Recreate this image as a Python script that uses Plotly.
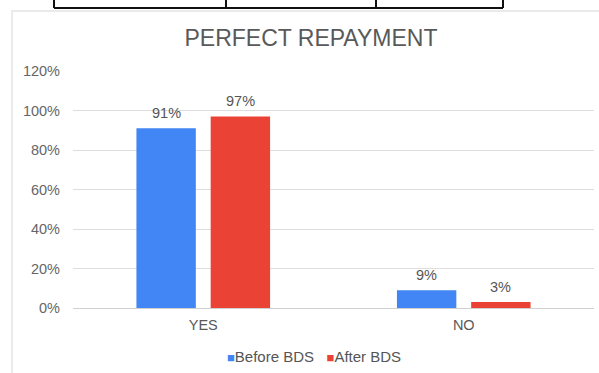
import plotly.graph_objects as go

categories = ["YES", "NO"]
before_bds = [0.91, 0.09]
after_bds = [0.97, 0.03]
series_names = ["Before BDS", "After BDS"]
series_colors = ["#4285F4", "#EA4335"]
tick_vals = [0, 0.2, 0.4, 0.6, 0.8, 1.0, 1.2]
tick_text = ["0%", "20%", "40%", "60%", "80%", "100%", "120%"]

W, H = 599, 373
L, R, T, B = 73, 5, 71, 65
PW, PH = W - L - R, H - T - B
BARGAP, GROUPGAP = 0.43, 0.2


def px(x):
    return (x - L) / PW


def py(y):
    return (H - B - y) / PH


FONT = "Arial, Liberation Sans, sans-serif"

fig = go.Figure()
all_series = [before_bds, after_bds]
for name, vals, col in zip(series_names, all_series, series_colors):
    fig.add_trace(go.Bar(
        x=categories, y=vals, name=name,
        marker=dict(color=col, line=dict(width=0)),
        showlegend=False,
    ))

# data labels, placed over each bar of the group
n = len(all_series)
cat_px = PW / len(categories)
slot_px = cat_px * (1 - BARGAP) / n
annotations = []
for k, vals in enumerate(all_series):
    shift = (k - (n - 1) / 2) * slot_px
    for c, v in zip(categories, vals):
        annotations.append(dict(x=c, y=v, xref="x", yref="y", text=f"{v:.0%}",
                                showarrow=False, xshift=shift, yshift=15,
                                yanchor="middle", xanchor="center",
                                font=dict(size=14.5, color="#555555", family=FONT)))

shapes = []
shapes.append(dict(type="rect", xref="paper", yref="paper",
                   x0=px(12), x1=px(640), y0=py(420), y1=py(11),
                   line=dict(color="#e3e3e3", width=1.5), fillcolor="rgba(0,0,0,0)",
                   layer="below"))
shapes.append(dict(type="line", xref="paper", yref="paper",
                   x0=px(54), x1=px(503), y0=py(8), y1=py(8),
                   line=dict(color="#111111", width=2)))
for xv in [54, 226, 376, 503]:
    shapes.append(dict(type="line", xref="paper", yref="paper",
                       x0=px(xv), x1=px(xv), y0=py(-2), y1=py(8),
                       line=dict(color="#111111", width=2)))

legend_text = "&nbsp;&nbsp;&nbsp;".join(
    f"<span style='color:{c};font-size:13px'>■</span>{n}"
    for n, c in zip(series_names, series_colors))
annotations.append(dict(text=legend_text, xref="paper", yref="paper",
                        x=px(314), y=py(356), xanchor="center", yanchor="middle",
                        showarrow=False, font=dict(size=15, color="#555555", family=FONT)))

fig.update_layout(
    width=W, height=H,
    margin=dict(l=L, r=R, t=T, b=B),
    paper_bgcolor="white", plot_bgcolor="white",
    font=dict(family=FONT, color="#595959", size=14),
    title=dict(text="PERFECT REPAYMENT", x=311 / W, xanchor="center",
               y=1 - 38 / H, yanchor="middle",
               font=dict(size=23, color="#595959", family=FONT)),
    barmode="group", bargap=BARGAP, bargroupgap=GROUPGAP,
    showlegend=False,
    shapes=shapes, annotations=annotations,
)
fig.update_yaxes(range=[0, 1.2], tickvals=tick_vals, ticktext=tick_text,
                 showgrid=True, gridcolor="#dedede", gridwidth=1,
                 zeroline=True, zerolinecolor="#d0d0d0", zerolinewidth=1,
                 showline=False, ticks="", ticklabelstandoff=12,
                 tickfont=dict(size=14.5, color="#666666"))
fig.update_xaxes(showgrid=False, showline=False, ticks="", ticklabelstandoff=6,
                 tickfont=dict(size=14.5, color="#595959"))

fig.write_html("out.html", config={"displayModeBar": False},
               post_script="document.body.style.margin='0px';document.body.style.padding='0px';")
